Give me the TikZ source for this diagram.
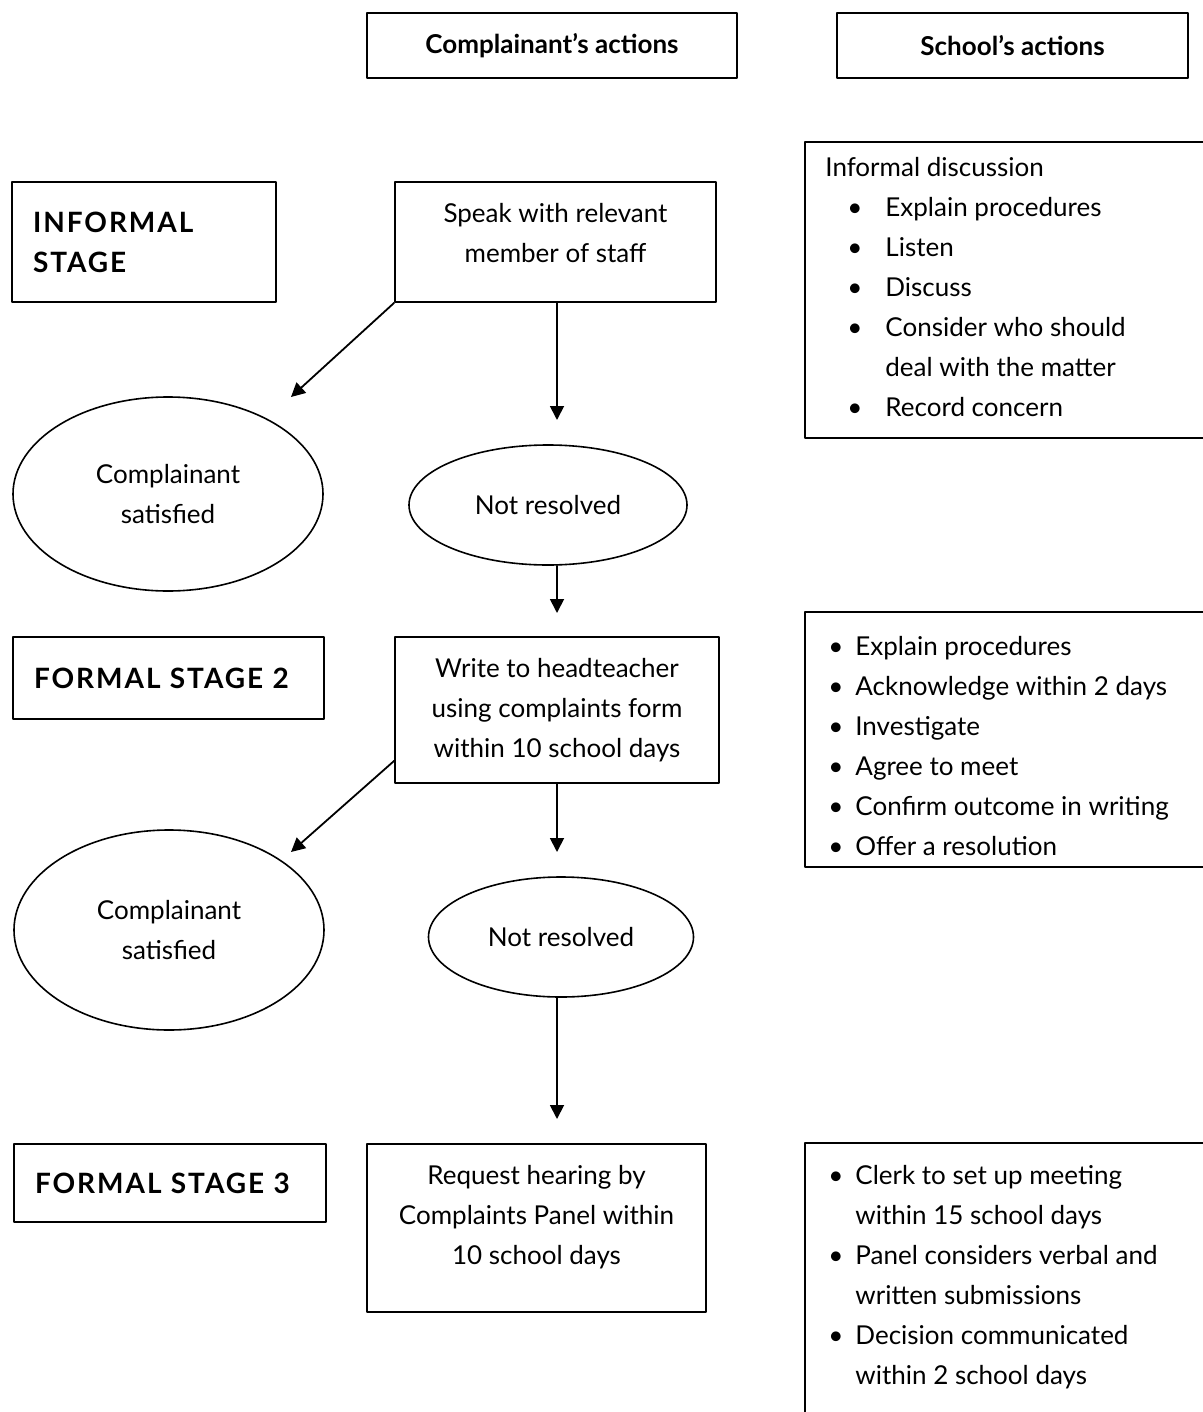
\documentclass[tikz,border=0pt]{standalone}
\usepackage{fontspec}
\setmainfont{Lato}
\usetikzlibrary{shapes.geometric,arrows.meta}
\newcommand{\fs}{\fontsize{13}{20}\selectfont}
\newcommand{\stagefont}{\fontsize{14}{20}\selectfont\bfseries\addfontfeature{LetterSpace=7}}
\newcommand{\wbul}{\hspace*{11pt}\makebox[19pt][l]{\textbullet}}
\newcommand{\nbul}{\makebox[13.5pt][l]{\textbullet}}
\tikzset{
	box/.style={draw,line width=0.9pt,inner sep=0pt,font=\fs,align=center},
	stagebox/.style={box,font=\stagefont,align=left,inner xsep=10.5pt},
	oval/.style={draw,ellipse,line width=0.8pt,inner sep=0pt,font=\fs,align=center},
	txt/.style={inner sep=0pt,font=\fs,align=center},
	lst/.style={inner sep=0pt,font=\fs,align=left,anchor=west},
	flow/.style={->,line width=0.9pt}
}
\begin{document}
\begin{tikzpicture}[x=0.5pt,y=-0.5pt,line cap=round,line join=round,>={Triangle[length=7pt,width=7pt]}]
	\useasboundingbox (0,0) rectangle (1203,1412);
	\clip (0,0) rectangle (1203,1412);
	% column headings
	\node[box,font=\fs\bfseries,minimum width=185pt,minimum height=32.5pt] (hcompl) at (552,45.5) {Complainant’s actions};
	\node[box,font=\fs\bfseries,minimum width=175.5pt,minimum height=32.5pt] (hschool) at (1012.5,45.5) {School’s actions};
	% stages
	\node[stagebox,text width=111pt,minimum width=132pt,minimum height=60pt] (informal) at (144,242) {INFORMAL\\STAGE};
	\node[stagebox,text width=134.5pt,minimum width=155.5pt,minimum height=41pt] (formal2) at (168.5,678) {FORMAL STAGE 2};
	\node[stagebox,text width=135pt,minimum width=156pt,minimum height=39pt] (formal3) at (170,1183) {FORMAL STAGE 3};
	% complainant's actions
	\node[box,minimum width=160.5pt,minimum height=60pt] (speak) at (555.5,242) {};
	\node[txt] (speaktxt) at (555.5,233) {Speak with relevant\\member of staff};
	\node[oval,minimum width=155pt,minimum height=97pt] (sat1) at (168,494) {Complainant\\satisfied};
	\node[oval,minimum width=139pt,minimum height=60pt] (nr1) at (548,505) {Not resolved};
	\node[box,minimum width=162pt,minimum height=73pt] (write) at (557,710) {Write to headteacher\\using complaints form\\within 10 school days};
	\node[oval,minimum width=155pt,minimum height=100pt] (sat2) at (169,930) {Complainant\\satisfied};
	\node[oval,minimum width=132.5pt,minimum height=60pt] (nr2) at (561,937) {Not resolved};
	\node[box,minimum width=169.5pt,minimum height=84pt] (request) at (536.5,1228) {};
	\node[txt] (requesttxt) at (536.5,1217) {Request hearing by\\Complaints Panel within\\10 school days};
	% arrow ends
	\coordinate (t1) at (291,397);
	\coordinate (t2) at (557,420);
	\coordinate (t3) at (557,613);
	\coordinate (t4) at (291,852);
	\coordinate (t5) at (557,852);
	\coordinate (t6) at (557,1119);
	\draw[flow] (speak.south west) -- (t1);
	\draw[flow] (t2 |- speak.south) -- (t2);
	\draw[flow] (t3 |- nr1.south) -- (t3);
	\draw[flow] ([yshift=11.5pt]write.south west) -- (t4);
	\draw[flow] (write.south) -- (t5);
	\draw[flow] (t6 |- nr2.south) -- (t6);
	% school's actions
	\node[box,minimum width=210pt,minimum height=148pt] (act1) at (1015,290) {};
	\node[box,minimum width=210pt,minimum height=127.5pt] (act2) at (1015,739.5) {};
	\node[box,minimum width=210pt,minimum height=143.5pt] (act3) at (1015,1286.5) {};
	\node[lst] (act1txt) at (825,287) {Informal discussion\\
		\wbul Explain procedures\\
		\wbul Listen\\
		\wbul Discuss\\
		\wbul Consider who should\\
		\hspace*{30pt}deal with the matter\\
		\wbul Record concern};
	\node[lst] (act2txt) at (828,746) {\nbul Explain procedures\\
		\nbul Acknowledge within 2 days\\
		\nbul Investigate\\
		\nbul Agree to meet\\
		\nbul Confirm outcome in writing\\
		\nbul Offer a resolution};
	\node[lst] (act3txt) at (828,1277.5) {\nbul Clerk to set up meeting\\
		\hspace*{13.5pt}within 15 school days\\
		\nbul Panel considers verbal and\\
		\hspace*{13.5pt}written submissions\\
		\nbul Decision communicated\\
		\hspace*{13.5pt}within 2 school days};
\end{tikzpicture}
\end{document}
